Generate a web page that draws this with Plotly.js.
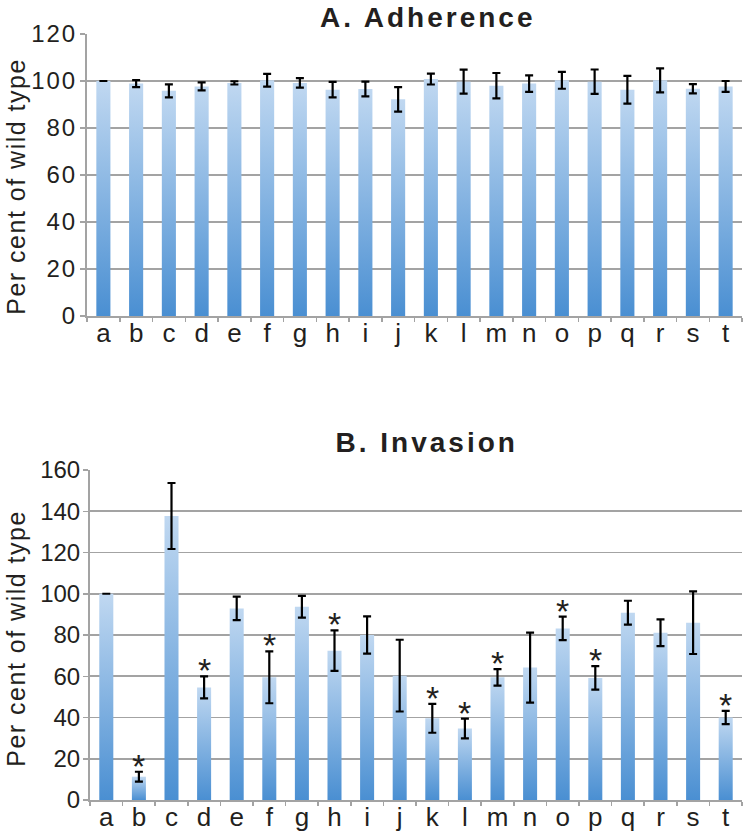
<!DOCTYPE html>
<html>
<head>
<meta charset="utf-8">
<script src="https://cdn.plot.ly/plotly-3.0.1.min.js"></script>
<style>
html,body{margin:0;padding:0;background:#fff;}
#chart{width:744px;height:832px;}
#chart .ytick text{letter-spacing:2px;}
</style>
</head>
<body>
<div id="chart"></div>
<script>
// ---- data ----
const categories = ["a","b","c","d","e","f","g","h","i","j","k","l","m","n","o","p","q","r","s","t"];

const adherenceValues = [100, 98.9, 95.8, 97.7, 99.2, 100.3, 99.2, 96.3, 96.6, 92.2, 100.8, 99.7, 98.0, 98.9, 100.3, 99.7, 96.3, 100.3, 96.7, 97.7];
const adherenceErrors = [0, 1.5, 2.8, 1.7, 0.7, 2.7, 2.0, 3.3, 3.1, 5.2, 2.3, 5.1, 5.4, 3.5, 3.6, 5.2, 5.9, 5.1, 2.0, 2.3];

const invasionValues = [100, 11.3, 137.7, 54.6, 92.9, 59.5, 93.7, 72.4, 80.0, 60.3, 39.6, 34.7, 59.5, 64.2, 83.2, 59.2, 90.8, 81.1, 86.0, 40.0];
const invasionErrors = [0, 2.4, 16.0, 5.3, 5.7, 12.6, 5.3, 9.8, 9.0, 17.4, 7.0, 4.8, 4.0, 17.0, 5.7, 5.7, 5.8, 6.5, 15.2, 3.2];
const invasionSignificant = ["b","d","f","h","k","l","m","o","p","t"];

const titleA = "A. Adherence";
const titleB = "B. Invasion";
const yTitle = "Per cent of wild type";

// ---- styling ----
const FONT = "Liberation Sans, Arial, Helvetica, sans-serif";
const GRID = "#a3a3a3";
const TXT = "#231f20";

function barTrace(vals, errs, xa, ya){
  return {
    type: "bar", x: categories, y: vals, xaxis: xa, yaxis: ya,
    marker: {color: "#8ab4e3", line: {width: 0}},
    error_y: {type: "data", array: errs, visible: true, color: "#000", thickness: 2.2, width: 4},
    hoverinfo: "x+y"
  };
}

const traces = [
  barTrace(adherenceValues, adherenceErrors, "x", "y"),
  barTrace(invasionValues, invasionErrors, "x2", "y2")
];

function xAxis(domain, anchor){
  return {
    domain: domain, anchor: anchor, type: "category",
    showline: true, linecolor: GRID, linewidth: 2,
    ticks: "outside", tickson: "boundaries", ticklen: 4, tickcolor: GRID, tickwidth: 1.5,
    ticklabelstandoff: -7,
    tickfont: {family: FONT, size: 26, color: TXT},
    showgrid: false, zeroline: false, fixedrange: true
  };
}
function yAxis(domain, anchor, range){
  return {
    domain: domain, anchor: anchor, range: range, dtick: 20, tick0: 0,
    showline: true, linecolor: GRID, linewidth: 2,
    ticks: "outside", ticklen: 5, tickcolor: GRID, tickwidth: 1.5,
    ticklabelstandoff: -2,
    showgrid: true, gridcolor: GRID, gridwidth: 1.8,
    tickfont: {family: FONT, size: 24, color: TXT},
    zeroline: false, fixedrange: true
  };
}

const annotations = [
  {text: "<b>" + titleA + "</b>", xref: "paper", yref: "paper", x: 427/744, y: 1,
   xanchor: "center", yanchor: "top", showarrow: false, font: {family: FONT, size: 28, color: TXT}},
  {text: "<b>" + titleB + "</b>", xref: "paper", yref: "paper", x: 426/744, y: 1 - 442/832,
   xanchor: "center", yanchor: "middle", showarrow: false, font: {family: FONT, size: 28, color: TXT}},
  {text: yTitle, xref: "paper", yref: "paper", x: 16/744, y: 1 - 187/832, textangle: -90,
   xanchor: "center", yanchor: "middle", showarrow: false, font: {family: FONT, size: 25, color: TXT}},
  {text: yTitle, xref: "paper", yref: "paper", x: 16/744, y: 1 - 639/832, textangle: -90,
   xanchor: "center", yanchor: "middle", showarrow: false, font: {family: FONT, size: 25, color: TXT}}
];
invasionSignificant.forEach(function(c){
  const i = categories.indexOf(c);
  annotations.push({
    text: "*", xref: "x2", yref: "y2", x: c, y: invasionValues[i] + invasionErrors[i],
    xanchor: "center", yanchor: "middle", yshift: 6, showarrow: false,
    font: {family: FONT, size: 34, color: TXT}
  });
});

const layout = {
  width: 744, height: 832,
  margin: {l: 0, r: 0, t: 0, b: 0},
  paper_bgcolor: "#fff", plot_bgcolor: "#fff",
  showlegend: false, bargap: 0.57,
  xaxis: xAxis([87/744, 742/744], "y"),
  yaxis: yAxis([1 - 316/832, 1 - 34/832], "x", [0, 120]),
  xaxis2: xAxis([90/744, 742/744], "y2"),
  yaxis2: yAxis([1 - 800/832, 1 - 470/832], "x2", [0, 160]),
  annotations: annotations
};

Plotly.newPlot("chart", traces, layout, {displayModeBar: false, staticPlot: true}).then(function(gd){
  const svg = gd.querySelector("svg.main-svg");
  const ns = "http://www.w3.org/2000/svg";
  let defs = svg.querySelector("defs");
  if(!defs){ defs = document.createElementNS(ns, "defs"); svg.insertBefore(defs, svg.firstChild); }
  const g = document.createElementNS(ns, "linearGradient");
  g.setAttribute("id", "barGrad");
  g.setAttribute("x1", "0"); g.setAttribute("y1", "0");
  g.setAttribute("x2", "0"); g.setAttribute("y2", "1");
  [["0", "#c0d8f1"], ["1", "#4a8fd2"]].forEach(function(s){
    const st = document.createElementNS(ns, "stop");
    st.setAttribute("offset", s[0]); st.setAttribute("stop-color", s[1]);
    g.appendChild(st);
  });
  defs.appendChild(g);
  gd.querySelectorAll(".barlayer .point path").forEach(function(p){
    p.style.fill = "url(#barGrad)";
  });
  // widen tracking of titles to match the reference typesetting
  gd.querySelectorAll(".annotation-text").forEach(function(t){
    const s = t.textContent;
    if(s === titleA || s === titleB) t.style.letterSpacing = "3px";
    else if(s === yTitle) t.style.letterSpacing = "1.5px";
  });
});
</script>
</body>
</html>
